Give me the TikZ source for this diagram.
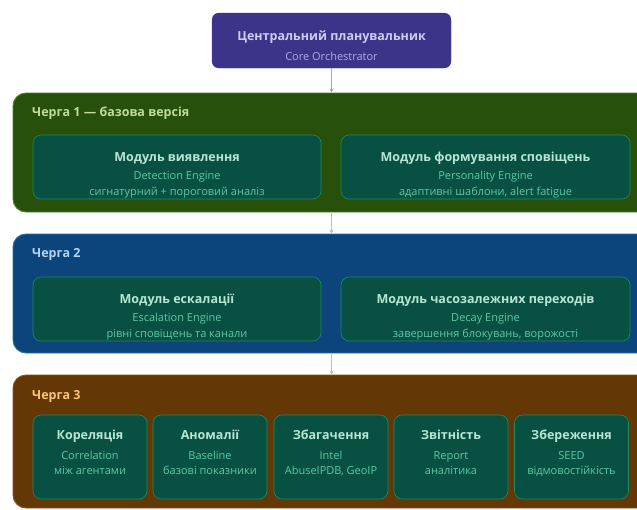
\documentclass[tikz,border=0pt]{standalone}
\usepackage{fontspec}
\setmainfont{Open Sans}
\usetikzlibrary{arrows.meta}

\definecolor{corefill}{HTML}{3C3489}
\definecolor{coretitle}{HTML}{CECBF6}
\definecolor{coresub}{HTML}{AFA9EC}
\definecolor{tieronefill}{HTML}{27500A}
\definecolor{tieroneline}{HTML}{4F7F22}
\definecolor{tieronetext}{HTML}{C0DD97}
\definecolor{tiertwofill}{HTML}{0C447C}
\definecolor{tiertwoline}{HTML}{2F6CA8}
\definecolor{tiertwotext}{HTML}{B5D4F4}
\definecolor{tierthreefill}{HTML}{633806}
\definecolor{tierthreeline}{HTML}{86561A}
\definecolor{tierthreetext}{HTML}{FAC775}
\definecolor{modfill}{HTML}{085041}
\definecolor{modline}{HTML}{1D8A68}
\definecolor{modtitle}{HTML}{B8E6D4}
\definecolor{modsub}{HTML}{5DCAA5}
\definecolor{arrowgray}{HTML}{BDBDBD}
\definecolor{arrowviolet}{HTML}{A49EDC}

\tikzset{
  x=1pt, y=-1pt,
  corebox/.style={draw=corefill, fill=corefill, rounded corners=7pt, inner sep=0pt},
  tierbox/.style={rounded corners=13pt, line width=0.9pt, inner sep=0pt},
  modbox/.style={fill=modfill, draw=modline, line width=0.6pt, rounded corners=8pt, inner sep=0pt},
  label/.style={inner sep=0pt, text height=9pt, text depth=2.5pt},
  tiertitle/.style={label, anchor=west, font=\fontsize{12.5}{14}\selectfont\bfseries},
  modtitletext/.style={label, text=modtitle, font=\fontsize{12.5}{15}\selectfont\bfseries},
  modsubtext/.style={label, text=modsub, font=\fontsize{11}{13}\selectfont},
  flow/.style={draw=arrowgray, line width=1pt, -{Stealth[length=4pt,width=4pt]}},
}

\begin{document}
\begin{tikzpicture}
\useasboundingbox (0,0) rectangle (637,509);
\clip (0,0) rectangle (637,509);

% central orchestrator
\node[corebox, minimum width=239pt, minimum height=55pt] (core) at (331.5,40.5) {};
\node[label, text=coretitle, font=\fontsize{12.5}{15}\selectfont\bfseries] (coreT) at (331.5,37) {Центральний планувальник};
\node[label, text=coresub, font=\fontsize{11}{13}\selectfont] (coreS) at (331.5,57) {Core Orchestrator};

% tier frames (they run past the right edge)
\node[tierbox, fill=tieronefill, draw=tieroneline, minimum width=650pt, minimum height=119pt] (t1) at (338,152.5) {};
\node[tierbox, fill=tiertwofill, draw=tiertwoline, minimum width=650pt, minimum height=119pt] (t2) at (338,293.5) {};
\node[tierbox, fill=tierthreefill, draw=tierthreeline, minimum width=650pt, minimum height=133pt] (t3) at (338,441.5) {};

\node[tiertitle, text=tieronetext] (t1L) at (32,113) {Черга 1 — базова версія};
\node[tiertitle, text=tiertwotext] (t2L) at (32,254) {Черга 2};
\node[tiertitle, text=tierthreetext] (t3L) at (32,396) {Черга 3};

% connectors
\draw[flow, draw=arrowviolet] (core.south) -- (core.south |- t1.north);
\draw[flow] (t1.south -| core) -- (t2.north -| core);
\draw[flow] (t2.south -| core) -- (t3.north -| core);

% tier 1 modules
\node[modbox, minimum width=288pt, minimum height=64pt] (det) at (177,167) {};
\node[modtitletext] (detT) at (177,158) {Модуль виявлення};
\node[modsubtext] (detS) at (177,176) {Detection Engine};
\node[modsubtext] (detD) at (177,192) {сигнатурний + пороговий аналіз};

\node[modbox, minimum width=289pt, minimum height=64pt] (pers) at (485.5,167) {};
\node[modtitletext] (persT) at (485.5,158) {Модуль формування сповіщень};
\node[modsubtext] (persS) at (485.5,176) {Personality Engine};
\node[modsubtext] (persD) at (485.5,192) {адаптивні шаблони, alert fatigue};

% tier 2 modules
\node[modbox, minimum width=288pt, minimum height=64pt] (esc) at (177,309) {};
\node[modtitletext] (escT) at (177,300) {Модуль ескалації};
\node[modsubtext] (escS) at (177,318) {Escalation Engine};
\node[modsubtext] (escD) at (177,334) {рівні сповіщень та канали};

\node[modbox, minimum width=289pt, minimum height=64pt] (dec) at (485.5,309) {};
\node[modtitletext] (decT) at (485.5,300) {Модуль часозалежних переходів};
\node[modsubtext] (decS) at (485.5,318) {Decay Engine};
\node[modsubtext] (decD) at (485.5,334) {завершення блокувань, ворожості};

% tier 3 modules
\foreach \nm/\cx/\ttl/\sub/\dsc in {
  corr/90/Кореляція/Correlation/між агентами,
  anom/210/Аномалії/Baseline/базові показники,
  enr/331/Збагачення/Intel/{AbuseIPDB, GeoIP},
  rep/451/Звітність/Report/аналітика,
  seed/571.5/Збереження/SEED/відмовостійкість} {
  \node[modbox, minimum width=114pt, minimum height=84pt] (\nm) at (\cx,457) {};
  \node[modtitletext] (\nm T) at (\cx,436) {\ttl};
  \node[modsubtext] (\nm S) at (\cx,456) {\sub};
  \node[modsubtext] (\nm D) at (\cx,471.5) {\dsc};
}
\end{tikzpicture}
\end{document}
